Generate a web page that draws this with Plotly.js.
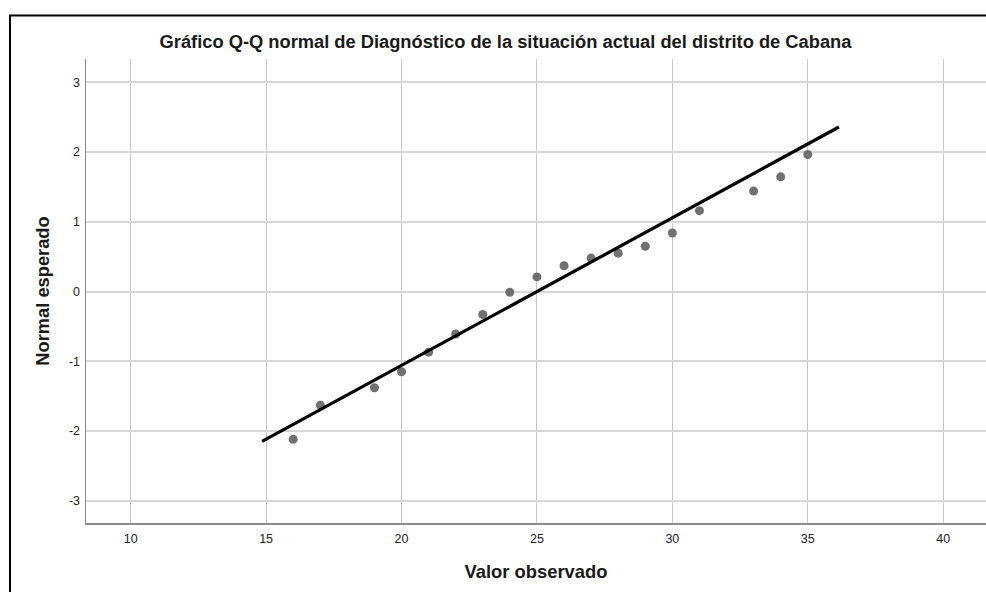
<!DOCTYPE html>
<html>
<head>
<meta charset="utf-8">
<script src="https://cdn.plot.ly/plotly-3.0.1.min.js"></script>
<style>html,body{margin:0;padding:0;background:#fff;}#chart{width:986px;height:592px;}</style>
</head>
<body>
<div id="chart"></div>
<script>
const observed = [16, 17, 19, 20, 21, 22, 23, 24, 25, 26, 27, 28, 29, 30, 31, 33, 34, 35];
const expectedNormal = [-2.12, -1.63, -1.38, -1.15, -0.87, -0.61, -0.33, -0.01, 0.21, 0.37, 0.48, 0.55, 0.65, 0.84, 1.16, 1.44, 1.645, 1.965];
// Reference line end points
const lineX = [14.85, 36.15];
const lineY = [-2.15, 2.36];
const xTicks = [10, 15, 20, 25, 30, 35, 40];
const yTicks = [-3, -2, -1, 0, 1, 2, 3];

const FONT = "'Liberation Sans', Arial, sans-serif";

const traces = [
  {
    x: observed, y: expectedNormal, type: 'scatter', mode: 'markers',
    marker: {color: '#717171', size: 9, line: {width: 0}},
    hoverinfo: 'x+y', showlegend: false
  },
  {
    x: lineX, y: lineY, type: 'scatter', mode: 'lines',
    line: {color: '#000000', width: 3.2},
    hoverinfo: 'skip', showlegend: false
  }
];

const layout = {
  width: 986, height: 592,
  margin: {l: 86, r: 0, t: 59, b: 69, pad: 0},
  paper_bgcolor: '#ffffff', plot_bgcolor: '#ffffff',
  showlegend: false,
  font: {family: FONT, color: '#000000'},
  title: {
    text: 'Gráfico Q-Q normal de Diagnóstico de la situación actual del distrito de Cabana',
    font: {family: FONT, size: 18.3, color: '#1a1a1a', weight: 'bold'},
    x: 505.5 / 986, xanchor: 'center', xref: 'container',
    y: 1 - 42 / 592, yanchor: 'middle', yref: 'container'
  },
  xaxis: {
    range: [8.35, 41.58],
    tickvals: xTicks, ticktext: xTicks.map(String),
    showgrid: true, gridcolor: '#c8c8c8', gridwidth: 1,
    zeroline: false, showline: true, linecolor: '#8a8a8a', linewidth: 1.5,
    ticks: '', tickfont: {family: FONT, size: 12.5, color: '#222222'},
    ticklabelstandoff: 3,
    title: {text: 'Valor observado', font: {family: FONT, size: 18.4, color: '#1a1a1a', weight: 'bold'}, standoff: 20},
    fixedrange: true
  },
  yaxis: {
    range: [-3.32, 3.335],
    tickvals: yTicks, ticktext: yTicks.map(String),
    showgrid: true, gridcolor: '#d6d6d6', gridwidth: 2,
    zeroline: false, showline: true, linecolor: '#8a8a8a', linewidth: 1.5,
    ticks: '', tickfont: {family: FONT, size: 12.5, color: '#222222'},
    ticklabelstandoff: 2,
    title: {text: 'Normal esperado', font: {family: FONT, size: 18.3, color: '#1a1a1a', weight: 'bold'}, standoff: 14},
    fixedrange: true
  },
  shapes: [
    {
      type: 'rect', xref: 'paper', yref: 'paper',
      x0: (10 - 86) / 900, x1: 1.1, y0: -0.3, y1: (523 - 15.5) / 464,
      line: {color: '#000000', width: 2}, fillcolor: 'rgba(0,0,0,0)', layer: 'below'
    }
  ]
};

Plotly.newPlot('chart', traces, layout, {displayModeBar: false, staticPlot: true});
</script>
</body>
</html>
